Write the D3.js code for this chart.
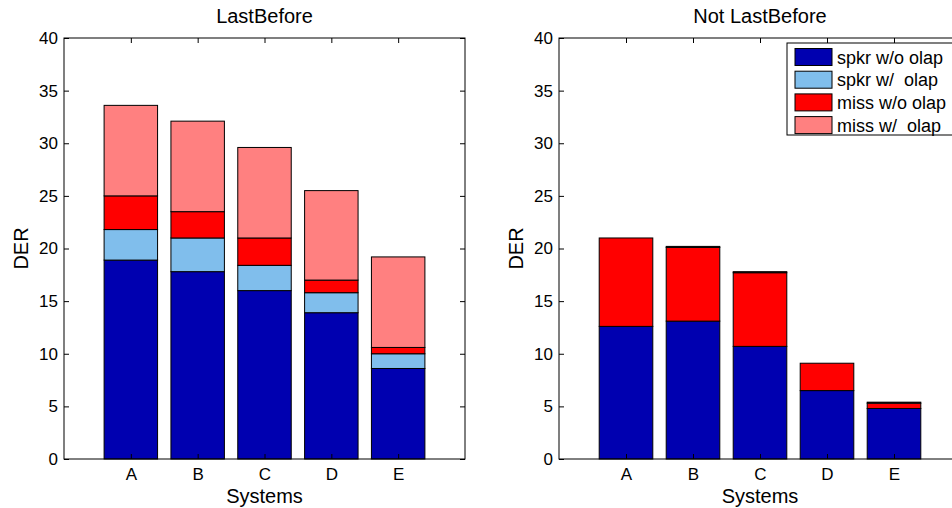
<!DOCTYPE html>
<html>
<head>
<meta charset="utf-8">
<script src="https://cdn.jsdelivr.net/npm/d3@7"></script>
<style>
  html, body { margin: 0; padding: 0; background: #fff; }
  svg { display: block; font-family: "Liberation Sans", Arial, Helvetica, sans-serif; }
</style>
</head>
<body>
<svg id="chart" width="952" height="508"></svg>
<script>
// ---- Data ----
const categories = ["A", "B", "C", "D", "E"];
const seriesNames = ["spkr w/o olap", "spkr w/  olap", "miss w/o olap", "miss w/  olap"];
const yTicks = [0, 5, 10, 15, 20, 25, 30, 35, 40];

// LastBefore (segment heights)
const spkrNoOlapL = [18.9, 17.8, 16.0, 13.9, 8.6];
const spkrOlapL   = [2.9, 3.2, 2.4, 1.9, 1.4];
const missNoOlapL = [3.2, 2.5, 2.6, 1.2, 0.6];
const missOlapL   = [8.6, 8.6, 8.6, 8.5, 8.6];

// Not LastBefore (segment heights)
const spkrNoOlapR = [12.6, 13.1, 10.7, 6.5, 4.8];
const spkrOlapR   = [0, 0, 0, 0, 0];
const missNoOlapR = [8.4, 7.0, 7.0, 2.6, 0.5];
const missOlapR   = [0, 0.1, 0.1, 0, 0.1];

const colors = ["#0000B0", "#80BEEC", "#FF0000", "#FF8080"];

const svg = d3.select("#chart");

function drawPanel(opts) {
  const { x0, x1, y0, y1, title, series, legend } = opts;
  const g = svg.append("g");
  const x = d3.scaleLinear().domain([0, categories.length + 1]).range([x0, x1]);
  const y = d3.scaleLinear().domain([0, 40]).range([y1, y0]);

  // stack
  const rows = categories.map((c, i) => {
    const o = { cat: c, idx: i + 1 };
    seriesNames.forEach((s, k) => o[s] = series[k][i]);
    return o;
  });
  const stacked = d3.stack().keys(seriesNames)(rows);
  const bw = 0.8;
  stacked.forEach((layer, k) => {
    g.append("g").selectAll("rect").data(layer).join("rect")
      .attr("x", d => x(d.data.idx - bw / 2))
      .attr("width", d => x(d.data.idx + bw / 2) - x(d.data.idx - bw / 2))
      .attr("y", d => y(d[1]))
      .attr("height", d => y(d[0]) - y(d[1]))
      .attr("fill", colors[k])
      .attr("stroke", "#000")
      .attr("stroke-width", 1);
  });

  // box
  g.append("rect").attr("x", x0).attr("y", y0).attr("width", x1 - x0).attr("height", y1 - y0)
    .attr("fill", "none").attr("stroke", "#000").attr("stroke-width", 1);

  const tl = 5;
  // y ticks left and right
  const yAxisL = d3.axisLeft(y).tickValues(yTicks).tickSizeInner(-tl).tickSizeOuter(0).tickPadding(6);
  const gl = g.append("g").attr("transform", `translate(${x0},0)`).call(yAxisL);
  gl.select(".domain").remove();
  gl.selectAll("text").attr("font-size", 17).attr("fill", "#000")
    .attr("font-family", '"Liberation Sans", Arial, sans-serif');
  const yAxisR = d3.axisRight(y).tickValues(yTicks).tickSizeInner(-tl).tickSizeOuter(0).tickFormat("");
  const gr = g.append("g").attr("transform", `translate(${x1},0)`).call(yAxisR);
  gr.select(".domain").remove();

  // x ticks bottom and top
  const catIdx = categories.map((c, i) => i + 1);
  const xAxisB = d3.axisBottom(x).tickValues(catIdx).tickSizeInner(-tl).tickSizeOuter(0)
    .tickPadding(9).tickFormat(d => categories[d - 1]);
  const gb = g.append("g").attr("transform", `translate(0,${y1})`).call(xAxisB);
  gb.select(".domain").remove();
  gb.selectAll("text").attr("font-size", 17).attr("fill", "#000")
    .attr("font-family", '"Liberation Sans", Arial, sans-serif');
  const xAxisT = d3.axisTop(x).tickValues(catIdx).tickSizeInner(-tl).tickSizeOuter(0).tickFormat("");
  const gt = g.append("g").attr("transform", `translate(0,${y0})`).call(xAxisT);
  gt.select(".domain").remove();
  g.selectAll(".tick line").attr("stroke", "#000");

  // title
  g.append("text").attr("x", (x0 + x1) / 2).attr("y", 23).attr("text-anchor", "middle")
    .attr("font-size", 20).text(title);
  // x label
  g.append("text").attr("x", (x0 + x1) / 2).attr("y", 503).attr("text-anchor", "middle")
    .attr("font-size", 20).text("Systems");
  // y label
  g.append("text").attr("transform", `translate(${x0 - 36},${(y0 + y1) / 2}) rotate(-90)`)
    .attr("text-anchor", "middle").attr("font-size", 20).text("DER");

  if (legend) {
    const lx = 787, ly = 43, rowH = 22.7;
    const lg = svg.append("g");
    lg.append("rect").attr("x", lx).attr("y", ly).attr("width", 200).attr("height", 92)
      .attr("fill", "#fff").attr("stroke", "#000").attr("stroke-width", 1);
    seriesNames.forEach((s, k) => {
      const cy = ly + 14 + k * rowH;
      lg.append("rect").attr("x", lx + 8).attr("y", cy - 8.5).attr("width", 37).attr("height", 17)
        .attr("fill", colors[k]).attr("stroke", "#000").attr("stroke-width", 1);
      lg.append("text").attr("x", lx + 50).attr("y", cy + 6.5).attr("font-size", 18)
        .attr("xml:space", "preserve").style("white-space", "pre").text(s);
    });
  }
}

drawPanel({ x0: 64, x1: 465, y0: 38, y1: 459, title: "LastBefore",
  series: [spkrNoOlapL, spkrOlapL, missNoOlapL, missOlapL], legend: false });
drawPanel({ x0: 559, x1: 961, y0: 38, y1: 459, title: "Not LastBefore",
  series: [spkrNoOlapR, spkrOlapR, missNoOlapR, missOlapR], legend: true });
</script>
</body>
</html>
